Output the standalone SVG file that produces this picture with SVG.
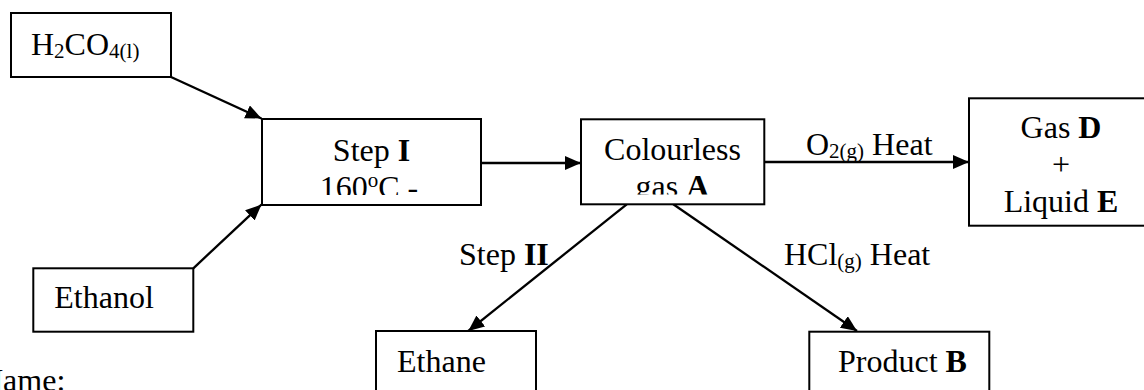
<svg xmlns="http://www.w3.org/2000/svg" width="1144" height="390" viewBox="0 0 1144 390">
<style>
.box{fill:#fff;stroke:#000;stroke-width:2}
.t{font-family:"Liberation Serif","Times New Roman",serif;font-size:32px;fill:#000}
.b{font-weight:bold}
.c{stroke:#000;stroke-width:2.3;fill:none}
</style>
<defs>
<marker id="ah" markerUnits="userSpaceOnUse" markerWidth="18" markerHeight="16" refX="16" refY="7" orient="auto">
<path d="M0,0 L16,7 L0,14 z" fill="#000"/>
</marker>
<clipPath id="clip1"><rect x="262" y="119" width="219" height="76"/></clipPath>
<clipPath id="clip2"><rect x="581" y="119" width="183" height="75.5"/></clipPath>
</defs>
<rect width="1144" height="390" fill="#fff"/>
<g id="connectors">
<line class="c" x1="171" y1="77" x2="261.5" y2="118.5" marker-end="url(#ah)"/>
<line class="c" x1="193.3" y1="268.3" x2="261.5" y2="204.5" marker-end="url(#ah)"/>
<line class="c" x1="482" y1="163" x2="581" y2="163" marker-end="url(#ah)"/>
<line class="c" x1="765" y1="162" x2="969" y2="162" marker-end="url(#ah)"/>
<line class="c" x1="626.7" y1="204.3" x2="468.3" y2="331" marker-end="url(#ah)"/>
<line class="c" x1="673.3" y1="204.3" x2="857" y2="331" marker-end="url(#ah)"/>
<text class="t" x="806" y="155">O<tspan font-size="21" dy="3">2(g)</tspan><tspan dy="-3"> Heat</tspan></text>
<text class="t" x="459" y="265">Step <tspan class="b">II</tspan></text>
<text class="t" x="784" y="265">HCl<tspan font-size="21" dy="3">(g)</tspan><tspan dy="-3"> Heat</tspan></text>
</g>
<g id="node-h2co4">
<rect class="box" x="11" y="13" width="160" height="64"/>
<text class="t" x="31" y="55">H<tspan font-size="21" dy="3">2</tspan><tspan dy="-3">CO</tspan><tspan font-size="21" dy="3">4(l)</tspan></text>
</g>
<g id="node-ethanol">
<rect class="box" x="33.3" y="268.3" width="160" height="63.4"/>
<text class="t" x="54.3" y="308.3">Ethanol</text>
</g>
<g id="node-step1">
<rect class="box" x="262" y="119" width="219" height="86"/>
<g clip-path="url(#clip1)">
<text class="t" x="371.5" y="161" text-anchor="middle">Step <tspan class="b">I</tspan></text>
<text class="t" x="369" y="198" text-anchor="middle">160<tspan font-size="21" dy="-11">o</tspan><tspan dy="11">C -</tspan></text>
</g>
</g>
<g id="node-gasA">
<rect class="box" x="581" y="119.3" width="183.3" height="85"/>
<g clip-path="url(#clip2)">
<text class="t" x="672.5" y="160" text-anchor="middle">Colourless</text>
<text class="t" x="672.5" y="197" text-anchor="middle">gas <tspan class="b">A</tspan></text>
</g>
</g>
<g id="node-gasD">
<rect class="box" x="969" y="98.3" width="184" height="127.4"/>
<text class="t" x="1061" y="138.3" text-anchor="middle">Gas <tspan class="b">D</tspan></text>
<text class="t" x="1061" y="175" text-anchor="middle">+</text>
<text class="t" x="1061" y="211.7" text-anchor="middle">Liquid <tspan class="b">E</tspan></text>
</g>
<g id="node-ethane">
<rect class="box" x="376" y="331" width="160" height="70"/>
<text class="t" x="397" y="372.3">Ethane</text>
</g>
<g id="node-productB">
<rect class="box" x="809.3" y="331.7" width="180" height="70"/>
<text class="t" x="838" y="371.7">Product <tspan class="b">B</tspan></text>
</g>
<text class="t" x="-20" y="391">Name:</text>
</svg>
